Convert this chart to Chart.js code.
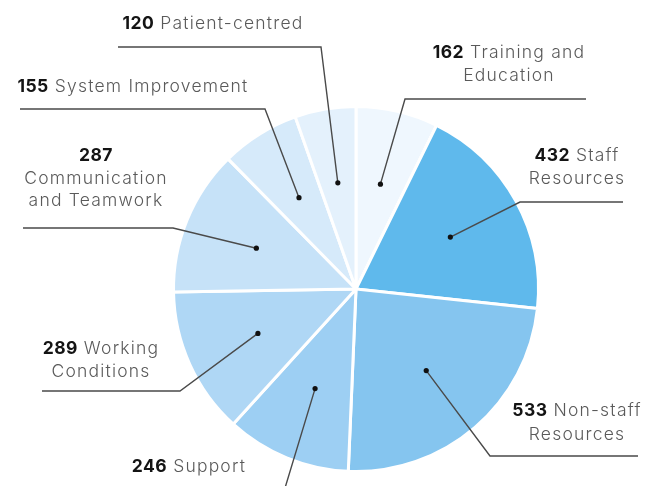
<!DOCTYPE html>
<html>
<head>
<meta charset="utf-8">
<script src="https://cdn.jsdelivr.net/npm/chart.js@4.4.1/dist/chart.umd.min.js"></script>
<style>
  html, body { margin: 0; padding: 0; background: #ffffff; }
  #wrap { width: 656px; height: 486px; position: relative; }
</style>
</head>
<body>
<div id="wrap"><canvas id="c" width="656" height="486"></canvas></div>
<script>
// ---- data ----
const categories = ['Training and Education', 'Staff Resources', 'Non-staff Resources', 'Support',
  'Working Conditions', 'Communication and Teamwork', 'System Improvement', 'Patient-centred'];
const counts = [162, 432, 533, 246, 289, 287, 155, 120];
const sliceColors = ['#eff7fe', '#5fb9ec', '#85c5ef', '#9dcff3', '#afd7f5', '#c6e2f8', '#d6eafa', '#e4f1fc'];

// ---- label layout (positions only) ----
// words: number of name words on each text line (first line starts with the number)
const labelLayout = [
  { cx: 509, base: [58, 81],       words: [2, 1],    lx1: 405, lx2: 586, ly: 99 },
  { cx: 577, base: [161, 184],     words: [1, 1],    lx1: 520, lx2: 623, ly: 202 },
  { cx: 577, base: [416, 440],     words: [1, 1],    lx1: 490, lx2: 638, ly: 456 },
  { cx: 189, base: [472],          words: [1],       lx1: 285, lx2: 120, ly: 488 },
  { cx: 101, base: [354, 377],     words: [1, 1],    lx1: 180, lx2: 42,  ly: 391 },
  { cx: 96,  base: [161, 184, 206], words: [0, 1, 2], lx1: 173, lx2: 23, ly: 228 },
  { cx: 133, base: [92],           words: [2],       lx1: 265, lx2: 20,  ly: 109 },
  { cx: 213, base: [29],           words: [1],       lx1: 321, lx2: 118, ly: 47 }
];

const FONT_SIZE = 17.5;
const FAMILY = 'Inter, "DejaVu Sans", sans-serif';
const NAME_SPACING = '1.2px';
const NUM_SPACING = '0.4px';

const leaderPlugin = {
  id: 'leaders',
  afterDraw(chart) {
    const ctx = chart.ctx;
    const meta = chart.getDatasetMeta(0);
    ctx.save();
    meta.data.forEach((arc, i) => {
      const p = arc.getProps(['x', 'y', 'startAngle', 'endAngle', 'outerRadius'], true);
      const mid = (p.startAngle + p.endAngle) / 2;
      const r = p.outerRadius * 0.59;
      const dx = p.x + Math.cos(mid) * r;
      const dy = p.y + Math.sin(mid) * r;
      const L = labelLayout[i];
      // leader line
      ctx.strokeStyle = '#4a4a4a';
      ctx.lineWidth = 1.4;
      ctx.beginPath();
      ctx.moveTo(dx, dy);
      ctx.lineTo(L.lx1, L.ly);
      ctx.lineTo(L.lx2, L.ly);
      ctx.stroke();
      // dot
      ctx.fillStyle = '#111111';
      ctx.beginPath();
      ctx.arc(dx, dy, 2.6, 0, Math.PI * 2);
      ctx.fill();
      // text
      const words = categories[i].split(' ');
      let w = 0;
      ctx.textBaseline = 'alphabetic';
      ctx.textAlign = 'left';
      L.words.forEach((n, li) => {
        const part = words.slice(w, w + n).join(' ');
        w += n;
        const boldFont = '700 ' + FONT_SIZE + 'px ' + FAMILY;
        const regFont = '300 ' + FONT_SIZE + 'px ' + FAMILY;
        let numTxt = li === 0 ? String(counts[i]) : '';
        let nameTxt = part;
        if (li === 0 && part) nameTxt = ' ' + part;
        ctx.font = boldFont;
        ctx.letterSpacing = NUM_SPACING;
        const nw = numTxt ? ctx.measureText(numTxt).width : 0;
        ctx.font = regFont;
        ctx.letterSpacing = NAME_SPACING;
        const tw = nameTxt ? ctx.measureText(nameTxt).width : 0;
        let x = L.cx - (nw + tw) / 2;
        if (numTxt) {
          ctx.font = boldFont;
          ctx.letterSpacing = NUM_SPACING;
          ctx.fillStyle = '#141414';
          ctx.fillText(numTxt, x, L.base[li]);
          x += nw;
        }
        if (nameTxt) {
          ctx.font = regFont;
          ctx.letterSpacing = NAME_SPACING;
          ctx.fillStyle = '#5a5a5a';
          ctx.fillText(nameTxt, x, L.base[li]);
        }
      });
    });
    ctx.restore();
  }
};

new Chart(document.getElementById('c'), {
  type: 'pie',
  data: {
    labels: categories,
    datasets: [{
      data: counts,
      backgroundColor: sliceColors,
      borderColor: '#ffffff',
      borderWidth: 3
    }]
  },
  options: {
    responsive: false,
    animation: false,
    layout: { padding: { left: 172, right: 116, top: 105, bottom: 13 } },
    plugins: { legend: { display: false }, tooltip: { enabled: false } }
  },
  plugins: [leaderPlugin]
});
</script>
</body>
</html>
